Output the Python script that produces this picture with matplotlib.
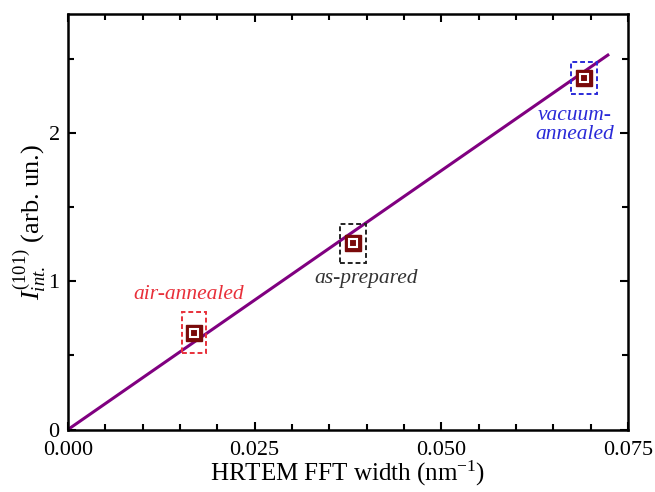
import numpy as np
import matplotlib
matplotlib.use("Agg")
import matplotlib.pyplot as plt
from matplotlib.patches import Rectangle
from matplotlib.ticker import MultipleLocator, FormatStrFormatter

plt.rcParams["font.family"] = ["Liberation Serif", "DejaVu Serif"]
plt.rcParams["mathtext.fontset"] = "custom"
plt.rcParams["mathtext.rm"] = "Liberation Serif"
plt.rcParams["mathtext.it"] = "Liberation Serif:italic"

# samples
labels = ["air-annealed", "as-prepared", "vacuum-\nannealed"]
fft_width = [0.0169, 0.0382, 0.0691]
intensity = [0.653, 1.255, 2.37]
width_err = [0.0016, 0.00174, 0.00174]
int_err = [0.14, 0.133, 0.107]
box_colors = ["#e8303a", "#222222", "#2a2ad8"]
label_colors = ["#e8303a", "#333333", "#2a2ad8"]
label_pos = [(0.0161, 0.907), (0.0399, 1.02), (0.0678, 2.05)]

# linear fit through the origin
fit_x = [0.0, 0.0723]
fit_slope = 34.9

fig, ax = plt.subplots(figsize=(6.55, 4.92), dpi=100)
fig.subplots_adjust(left=0.1038, right=0.9588, top=0.9715, bottom=0.127)

fx = np.array(fit_x)
ax.plot(fx, fit_slope * fx, color="#800080", lw=2.2, zorder=2)

for x, y, dx, dy, c in zip(fft_width, intensity, width_err, int_err, box_colors):
    ax.add_patch(Rectangle((x - dx, y - dy), 2 * dx, 2 * dy, fill=False,
                           edgecolor=c, lw=1.4, ls=(0, (2.5, 1.5)), zorder=3))

ax.plot(fft_width, intensity, "s", ms=11.5, color="#7a0a0a", zorder=4)
ax.plot(fft_width, intensity, "s", ms=5.5, mfc="#7a0a0a", mec="white",
        mew=1.5, zorder=5)

for (tx, ty), txt, c in zip(label_pos, labels, label_colors):
    ax.text(tx, ty, txt, color=c, style="italic", fontsize=15.5,
            ha="center", va="center", linespacing=1.0)

ax.set_xlim(0, 0.075)
ax.set_ylim(0, 2.8)
ax.xaxis.set_major_locator(MultipleLocator(0.025))
ax.xaxis.set_minor_locator(MultipleLocator(0.005))
ax.yaxis.set_major_locator(MultipleLocator(1))
ax.yaxis.set_minor_locator(MultipleLocator(0.5))
ax.xaxis.set_major_formatter(FormatStrFormatter("%.3f"))
ax.tick_params(which="both", direction="in", top=True, right=True,
               labelsize=16, width=1.5)
ax.tick_params(axis="x", which="major", pad=8.5)
ax.tick_params(axis="y", which="major", pad=6)
ax.tick_params(which="major", length=6)
ax.tick_params(which="minor", length=4)
for s in ax.spines.values():
    s.set_linewidth(1.8)

ax.set_xlabel("HRTEM FFT width (nm$^{\\mathrm{-1}}$)", fontsize=18, labelpad=-1)
ax.set_ylabel("$I_{int.}^{\\mathrm{(101)}}$ (arb. un.)", fontsize=19, labelpad=0)

fig.savefig("out.png", dpi=100)
